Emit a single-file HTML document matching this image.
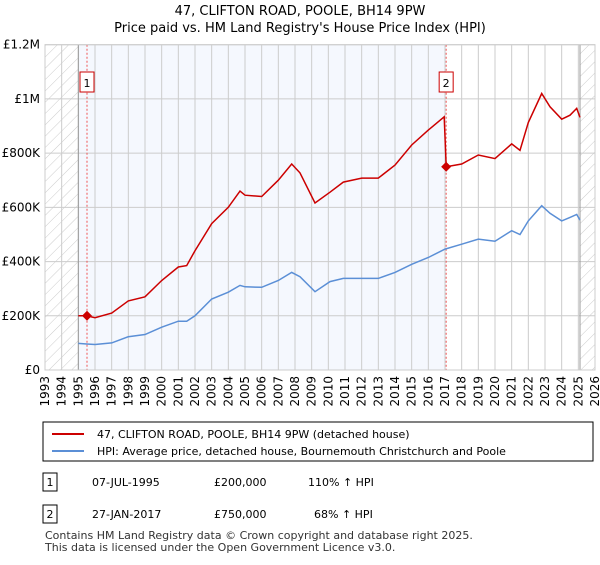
<!DOCTYPE html>
<html><head><meta charset="utf-8"><style>
body{margin:0;background:#fff;font-family:"Liberation Sans","DejaVu Sans",sans-serif;}
svg text{font-family:"DejaVu Sans","Liberation Sans",sans-serif;}
</style></head><body>
<svg id="c" width="600" height="560" xmlns="http://www.w3.org/2000/svg">
<defs><pattern id="h" width="8" height="8" patternUnits="userSpaceOnUse" patternTransform="rotate(45)"><line x1="0" y1="0" x2="0" y2="8" stroke="#ccc" stroke-width="1"/></pattern></defs>
<text x="300" y="15" text-anchor="middle" font-size="13">47, CLIFTON ROAD, POOLE, BH14 9PW</text>
<text x="300" y="32" text-anchor="middle" font-size="13">Price paid vs. HM Land Registry's House Price Index (HPI)</text>
<g id="plot"></g>
<g>
<rect x="43" y="422" width="550" height="39" fill="#fff" stroke="#000" stroke-width="1"/>
<line x1="52" y1="434" x2="84" y2="434" stroke="#cc0000" stroke-width="2"/>
<text x="97" y="438" font-size="11">47, CLIFTON ROAD, POOLE, BH14 9PW (detached house)</text>
<line x1="52" y1="451" x2="84" y2="451" stroke="#5b8fd6" stroke-width="2"/>
<text x="97" y="455" font-size="11">HPI: Average price, detached house, Bournemouth Christchurch and Poole</text>
</g>
<g font-size="11">
<rect x="43" y="473" width="14" height="18" fill="#fff" stroke="#000"/><text x="50" y="486" text-anchor="middle">1</text>
<text x="92" y="486">07-JUL-1995</text><text x="214" y="486">£200,000</text><text x="308" y="486">110% ↑ HPI</text>
<rect x="43" y="505" width="14" height="18" fill="#fff" stroke="#000"/><text x="50" y="518" text-anchor="middle">2</text>
<text x="92" y="518">27-JAN-2017</text><text x="214" y="518">£750,000</text><text x="314" y="518">68% ↑ HPI</text>
</g>
<text x="45" y="539" font-size="11" fill="#333">Contains HM Land Registry data © Crown copyright and database right 2025.</text>
<text x="45" y="551" font-size="11" fill="#333">This data is licensed under the Open Government Licence v3.0.</text>
</svg>
<script>
const hpiYears=[1995,1995.5,1996,1997,1998,1999,2000,2001,2001.5,2002,2003,2004,2004.7,2005,2006,2007,2007.8,2008.3,2009.2,2010.1,2010.9,2012,2013,2014,2015,2016,2017,2018,2019,2020,2021,2021.5,2022,2022.8,2023.3,2024,2024.5,2024.9,2025.1];
const hpiValues=[98,96,94,100,123,131,158,180,180,200,262,287,312,307,305,330,360,344,289,326,338,338,338,360,390,415,446,464,483,475,514,500,550,606,578,550,563,574,553];
const priceYears=[1995,1995.5,1996,1997,1998,1999,2000,2001,2001.5,2002,2003,2004,2004.7,2005,2006,2007,2007.8,2008.3,2009.2,2010.1,2010.9,2012,2013,2014,2015,2016,2016.95,2017.07,2018,2019,2020,2021,2021.5,2022,2022.8,2023.3,2024,2024.5,2024.9,2025.1];
const priceValues=[200,200,193,210,255,270,330,380,385,440,540,600,660,645,640,700,760,727,616,656,693,708,708,756,830,885,934,750,760,793,780,834,810,913,1020,971,925,940,965,932];
const sales=[{label:"1",year:1995.52,value:200},{label:"2",year:2017.07,value:750}];
const yTicks=[0,200,400,600,800,1000,1200];
const yTickLabels=["£0","£200K","£400K","£600K","£800K","£1M","£1.2M"];
const xTicks=[1993,1994,1995,1996,1997,1998,1999,2000,2001,2002,2003,2004,2005,2006,2007,2008,2009,2010,2011,2012,2013,2014,2015,2016,2017,2018,2019,2020,2021,2022,2023,2024,2025,2026];
const L=45,R=595,T=44.7,B=370;
const x=y=>L+(y-1993)*(R-L)/33;
const yv=v=>B-v*(B-T)/1200;
const g=document.getElementById('plot');const NS="http://www.w3.org/2000/svg";
function el(t,a,p){const e=document.createElementNS(NS,t);for(const k in a)e.setAttribute(k,a[k]);(p||g).appendChild(e);return e;}
let e;
e=el('rect',{x:x(1995),y:T,width:x(2017.07)-x(1995),height:B-T,fill:'#f5f8fe'});


e=el('rect',{x:L,y:T,width:x(1995)-L,height:B-T,fill:'url(#h)'});


e=el('rect',{x:x(2025.1),y:T,width:R-x(2025.1),height:B-T,fill:'url(#h)'});


xTicks.forEach(t=>{el('line',{x1:x(t),y1:T,x2:x(t),y2:B,stroke:'#ccc','stroke-width':1});
e=el('text',{x:0,y:0,'font-size':12,'text-anchor':'end',transform:`translate(${x(t)+4},${B+6}) rotate(-90)`});e.textContent=t;

});
yTicks.forEach((t,i)=>{el('line',{x1:L,y1:yv(t),x2:R,y2:yv(t),stroke:'#ccc','stroke-width':1});
e=el('text',{x:40,y:yv(t)+4,'font-size':12,'text-anchor':'end'});e.textContent=yTickLabels[i];

});
el('line',{x1:x(1995),y1:T,x2:x(1995),y2:B,stroke:'#999'});
el('line',{x1:x(2025.1),y1:T,x2:x(2025.1),y2:B,stroke:'#999'});
sales.forEach(s=>{el('line',{x1:x(s.year),y1:T,x2:x(s.year),y2:B,stroke:'#e55','stroke-dasharray':'2,2'});});
e=el('path',{d:hpiYears.map((t,i)=>(i?'L':'M')+x(t).toFixed(1)+','+yv(hpiValues[i]).toFixed(1)).join(''),fill:'none',stroke:'#5b8fd6','stroke-width':1.5});


e=el('path',{d:priceYears.map((t,i)=>(i?'L':'M')+x(t).toFixed(1)+','+yv(priceValues[i]).toFixed(1)).join(''),fill:'none',stroke:'#cc0000','stroke-width':1.5});


sales.forEach(s=>{const cx=x(s.year),cy=yv(s.value);
e=el('path',{d:`M${cx-5},${cy}L${cx},${cy-5}L${cx+5},${cy}L${cx},${cy+5}Z`,fill:'#cc0000'});


el('rect',{x:cx-7,y:72,width:14,height:20,fill:'#fff',stroke:'#cc0000'});
e=el('text',{x:cx,y:87,'font-size':11,'text-anchor':'middle'});e.textContent=s.label;

});
el('rect',{x:L,y:T,width:R-L,height:B-T,fill:'none',stroke:'#ccc'});
</script>
</body></html>
